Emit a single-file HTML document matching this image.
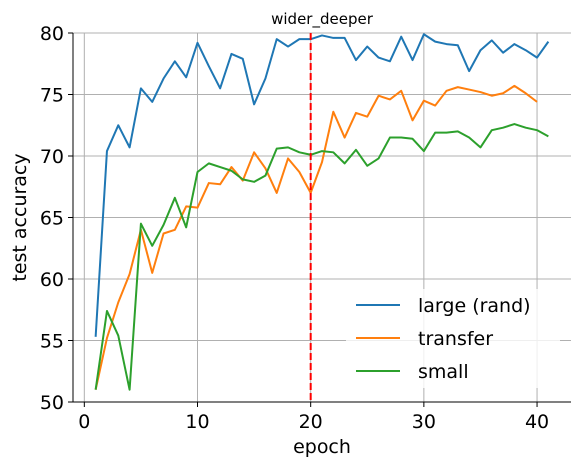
<!DOCTYPE html>
<html><head><meta charset="utf-8"><style>
body{margin:0;background:#fff;font-family:"Liberation Sans","DejaVu Sans",sans-serif}
</style></head><body>
<svg id="chart" width="579" height="467" xmlns="http://www.w3.org/2000/svg" font-family="DejaVu Sans, Liberation Sans, sans-serif">
<g id="grid"></g><g id="series"></g><g id="axes"></g>
</svg>
<script>
const xTicks=[0,10,20,30,40];
const yTicks=[50,55,60,65,70,75,80];
const largeVals=[55.3,70.4,72.5,70.7,75.5,74.4,76.3,77.7,76.4,79.2,77.3,75.5,78.3,77.9,74.2,76.3,79.5,78.9,79.5,79.5,79.8,79.6,79.6,77.8,78.9,78.0,77.7,79.7,77.8,79.9,79.3,79.1,79.0,76.9,78.6,79.4,78.4,79.1,78.6,78.0,79.3];
const transferVals=[51.0,55.2,58.1,60.4,64.0,60.5,63.7,64.0,65.9,65.8,67.8,67.7,69.1,68.0,70.3,69.0,67.0,69.8,68.7,67.0,69.5,73.6,71.5,73.5,73.2,74.9,74.6,75.3,72.9,74.5,74.1,75.3,75.6,75.4,75.2,74.9,75.1,75.7,75.1,74.4];
const smallVals=[51.0,57.4,55.4,51.0,64.5,62.7,64.4,66.6,64.2,68.7,69.4,69.1,68.8,68.1,67.9,68.4,70.6,70.7,70.3,70.1,70.4,70.3,69.4,70.5,69.2,69.8,71.5,71.5,71.4,70.4,71.9,71.9,72.0,71.5,70.7,72.1,72.3,72.6,72.3,72.1,71.6];
const seriesNames=["large (rand)","transfer","small"];
const colors=["#1f77b4","#ff7f0e","#2ca02c"];
const switchEpoch=20;
const L=73,R=571,T=33,B=402,xmin=-1,xmax=43,ymin=50,ymax=80;
const X=v=>L+(v-xmin)/(xmax-xmin)*(R-L);
const Y=v=>B-(v-ymin)/(ymax-ymin)*(B-T);
const NS="http://www.w3.org/2000/svg";
function mk(tag,attrs,parent){const e=document.createElementNS(NS,tag);for(const k in attrs)e.setAttribute(k,attrs[k]);parent.appendChild(e);return e;}
const grid=document.getElementById('grid'),ser=document.getElementById('series'),ax=document.getElementById('axes');
xTicks.forEach(t=>{
 const g=mk('line',{x1:X(t),x2:X(t),y1:T,y2:B,stroke:'#b0b0b0','stroke-width':1},grid);
 
 
 mk('line',{x1:X(t),x2:X(t),y1:B,y2:B+5,stroke:'#000','stroke-width':1},ax);
 const tx=mk('text',{x:X(t),y:B+26,'text-anchor':'middle','font-size':19},ax);tx.textContent=t;
 
 
});
yTicks.forEach(t=>{
 const g=mk('line',{x1:L,x2:R,y1:Y(t),y2:Y(t),stroke:'#b0b0b0','stroke-width':1},grid);
 
 
 mk('line',{x1:L-5,x2:L,y1:Y(t),y2:Y(t),stroke:'#000','stroke-width':1},ax);
 const tx=mk('text',{x:L-9,y:Y(t)+7,'text-anchor':'end','font-size':19},ax);tx.textContent=t;
 
 
});
[largeVals,transferVals,smallVals].forEach((vals,i)=>{
 const p=mk('polyline',{points:vals.map((v,j)=>X(j+1)+','+Y(v)).join(' '),fill:'none',stroke:colors[i],'stroke-width':2,'stroke-linejoin':'round'},ser);
 
 
});
const vl=mk('line',{x1:X(switchEpoch),x2:X(switchEpoch),y1:T,y2:B,stroke:'#ff0000','stroke-width':2,'stroke-dasharray':'7,3'},ser);


const lA=mk('line',{x1:L,x2:L,y1:T,y2:B,stroke:'#000','stroke-width':1},ax);


const bA=mk('line',{x1:L,x2:R,y1:B,y2:B,stroke:'#000','stroke-width':1},ax);


const tt=mk('text',{x:(L+R)/2,y:24,'text-anchor':'middle','font-size':15},ax);tt.textContent='wider_deeper';


const xl=mk('text',{x:(L+R)/2,y:453,'text-anchor':'middle','font-size':19},ax);xl.textContent='epoch';


const yl=mk('text',{x:0,y:0,'text-anchor':'middle','font-size':19,transform:'translate(26,'+((T+B)/2)+') rotate(-90)'},ax);yl.textContent='test accuracy';


seriesNames.forEach((n,i)=>{
 const y=305+i*33;
 const g=mk('g',{},ax);
 
 
 mk('rect',{x:346,y:y-16,width:214,height:33,fill:'#fff','fill-opacity':0.8},g);
 mk('line',{x1:356,x2:400,y1:y,y2:y,stroke:colors[i],'stroke-width':2},g);
 const t=mk('text',{x:418,y:y+7,'font-size':19},g);t.textContent=n;
});
</script>
</body></html>
